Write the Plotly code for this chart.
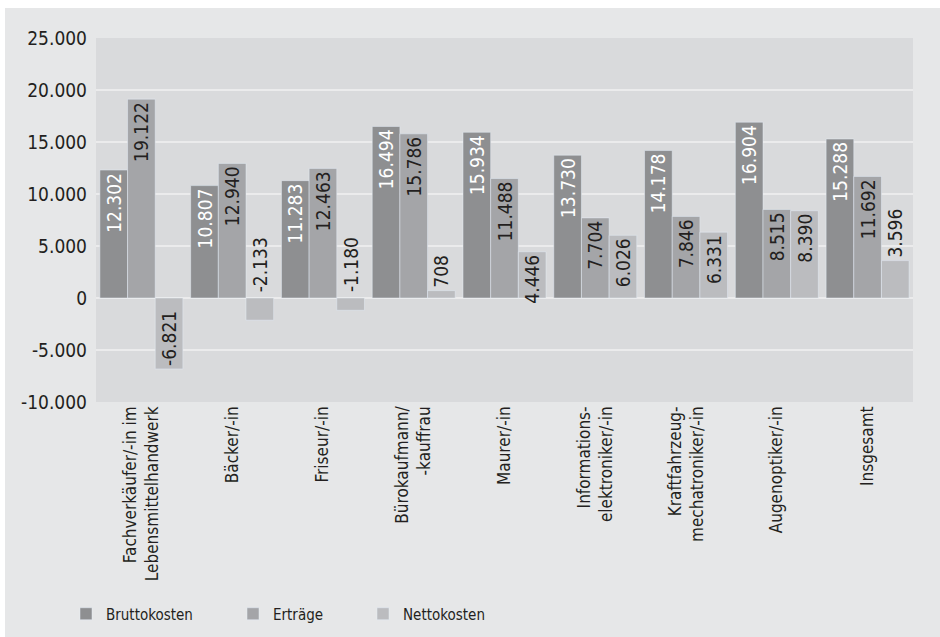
import plotly.graph_objects as go

# Kosten und Erträge je Ausbildungsberuf (Euro pro Jahr)
categories = [
    "Fachverkäufer/-in im<br>Lebensmittelhandwerk",
    "Bäcker/-in",
    "Friseur/-in",
    "Bürokaufmann/<br>-kauffrau",
    "Maurer/-in",
    "Informations-<br>elektroniker/-in",
    "Kraftfahrzeug-<br>mechatroniker/-in",
    "Augenoptiker/-in",
    "Insgesamt",
]
bruttokosten = [12302, 10807, 11283, 16494, 15934, 13730, 14178, 16904, 15288]
ertraege = [19122, 12940, 12463, 15786, 11488, 7704, 7846, 8515, 11692]
nettokosten = [-6821, -2133, -1180, 708, 4446, 6026, 6331, 8390, 3596]

y_tickvals = [-10000, -5000, 0, 5000, 10000, 15000, 20000, 25000]
y_ticktext = ["-10.000", "-5.000", "0", "5.000", "10.000", "15.000", "20.000", "25.000"]

FONT = "Liberation Sans Narrow, DejaVu Sans Condensed, Arial Narrow, sans-serif"
DARK = "#231f20"
C_BRUTTO = "#8e8f91"
C_ERTRAG = "#a4a5a8"
C_NETTO = "#bbbcbf"
FRAME = "#e6e7e8"

W, H = 940, 637
L, R, T, B = 96, 27, 38, 235
BARGAP = 0.0857


def fmt(v):
    return f"{v:,}".replace(",", ".")


x_idx = list(range(len(categories)))

# Netto labels: inside where the bar is tall enough, above the bar for small
# positive values, and above the zero line for short negative bars
netto_pos = []
netto_annot = []
for i, v in enumerate(nettokosten):
    if v < 0 and v > -4000:
        netto_pos.append("none")
        netto_annot.append(i)
    elif 0 <= v < 4000:
        netto_pos.append("outside")
    else:
        netto_pos.append("inside")

fig = go.Figure()
fig.add_trace(go.Bar(
    name="Bruttokosten", x=x_idx, y=bruttokosten, marker_color=C_BRUTTO,
    text=[fmt(v) for v in bruttokosten], textposition="inside",
    insidetextanchor="end", textangle=-90, constraintext="none",
    insidetextfont=dict(family=FONT, size=19, color="white"),
    legend="legend",
))
fig.add_trace(go.Bar(
    name="Erträge", x=x_idx, y=ertraege, marker_color=C_ERTRAG,
    text=[fmt(v) for v in ertraege], textposition="inside",
    insidetextanchor="end", textangle=-90, constraintext="none",
    insidetextfont=dict(family=FONT, size=19, color=DARK),
    legend="legend2",
))
fig.add_trace(go.Bar(
    name="Nettokosten", x=x_idx, y=nettokosten, marker_color=C_NETTO,
    text=[fmt(v) for v in nettokosten], textposition=netto_pos,
    insidetextanchor="end", textangle=-90, constraintext="none",
    cliponaxis=False,
    insidetextfont=dict(family=FONT, size=19, color=DARK),
    outsidetextfont=dict(family=FONT, size=19, color=DARK),
    legend="legend3",
))

netto_offset = (1 - BARGAP) / 3
annotations = []
for i in netto_annot:
    annotations.append(dict(
        x=i + netto_offset, y=0, xref="x", yref="y",
        text=fmt(nettokosten[i]), textangle=-90, showarrow=False,
        xanchor="center", yanchor="bottom", yshift=4,
        font=dict(family=FONT, size=19, color=DARK),
    ))

# white page edge above and left of the grey frame
pw, ph = W - L - R, H - T - B
shapes = [
    dict(type="rect", xref="paper", yref="paper", layer="above",
         x0=-L / pw - 0.01, x1=(W - L) / pw + 0.01,
         y0=(H - B - 8) / ph, y1=(H - B) / ph + 0.01,
         fillcolor="white", line=dict(width=0)),
    dict(type="rect", xref="paper", yref="paper", layer="above",
         x0=-L / pw - 0.01, x1=(5 - L) / pw,
         y0=-B / ph - 0.01, y1=(H - B) / ph + 0.01,
         fillcolor="white", line=dict(width=0)),
]


def legend_at(px, py):
    return dict(
        orientation="h", xref="container", yref="container",
        x=px / W, y=1 - py / H, xanchor="left", yanchor="middle",
        bgcolor="rgba(0,0,0,0)", itemwidth=30,
        font=dict(family=FONT, size=15, color=DARK),
    )


fig.update_layout(
    width=W, height=H,
    margin=dict(l=L, r=R, t=T, b=B, pad=0),
    paper_bgcolor=FRAME, plot_bgcolor="#d9dadc",
    barmode="group", bargap=BARGAP, bargroupgap=0,
    font=dict(family=FONT, size=17, color=DARK),
    shapes=shapes, annotations=annotations,
    showlegend=True,
    legend=legend_at(66, 614),
    legend2=legend_at(233, 614),
    legend3=legend_at(363, 614),
    xaxis=dict(
        tickmode="array", tickvals=x_idx, ticktext=categories,
        tickangle=-90, showgrid=False, zeroline=False, showline=False,
        ticks="", tickfont=dict(family=FONT, size=17, color=DARK),
        range=[-0.5, len(categories) - 0.5],
    ),
    yaxis=dict(
        range=[-10000, 25000], tickmode="array",
        tickvals=y_tickvals, ticktext=y_ticktext,
        showgrid=True, gridcolor="#ebebec", gridwidth=2,
        zeroline=True, zerolinecolor="#ebebec", zerolinewidth=2,
        showline=False, ticks="", ticklabelstandoff=8,
        tickfont=dict(family=FONT, size=19, color=DARK),
    ),
)

fig.write_html("out.html")
